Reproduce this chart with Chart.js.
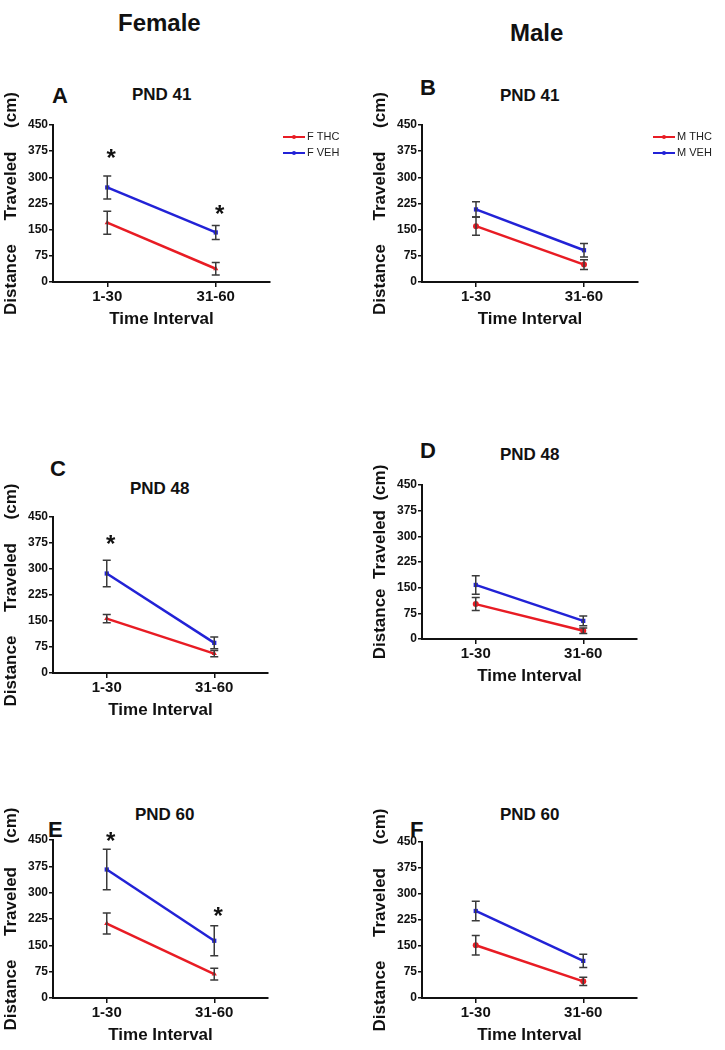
<!DOCTYPE html>
<html><head><meta charset="utf-8">
<script src="https://cdn.jsdelivr.net/npm/chart.js@4.4.1/dist/chart.umd.min.js"></script>
<style>
body{margin:0;background:#fff;width:725px;height:1050px;position:relative;overflow:hidden;font-family:"Liberation Sans",Arial,sans-serif;}
.t{position:absolute;font-weight:bold;line-height:1;white-space:nowrap;color:#111}
canvas{position:absolute}
</style></head><body>
<div class="t" style="left:118px;top:11px;font-size:24px">Female</div>
<div class="t" style="left:510px;top:21px;font-size:24px">Male</div>
<div class="t" style="left:52px;top:85px;font-size:22px">A</div>
<div class="t" style="left:132px;top:86px;font-size:17px">PND 41</div>
<div class="t" style="left:420px;top:77px;font-size:22px">B</div>
<div class="t" style="left:500px;top:87px;font-size:17px">PND 41</div>
<div class="t" style="left:50px;top:458px;font-size:22px">C</div>
<div class="t" style="left:130px;top:480px;font-size:17px">PND 48</div>
<div class="t" style="left:420px;top:440px;font-size:22px">D</div>
<div class="t" style="left:500px;top:446px;font-size:17px">PND 48</div>
<div class="t" style="left:48px;top:819px;font-size:22px">E</div>
<div class="t" style="left:135px;top:806px;font-size:17px">PND 60</div>
<div class="t" style="left:410px;top:819px;font-size:22px">F</div>
<div class="t" style="left:500px;top:806px;font-size:17px">PND 60</div>
<script>
// ---- data ----
const categories = ['1-30', '31-60'];
const yTicks = [0, 75, 150, 225, 300, 375, 450];

const femaleLabels = ['F THC', 'F VEH'];
const maleLabels = ['M THC', 'M VEH'];

const thcA = [170, 38];   const thcAErr = [33, 18];
const vehA = [271, 142];  const vehAErr = [33, 20];
const starsA = [[0, 373], [1, 212]];

const thcB = [160, 50];   const thcBErr = [26, 14];
const vehB = [208, 91];   const vehBErr = [22, 19];

const thcC = [157, 56];   const thcCErr = [12, 9];
const vehC = [287, 87];   const vehCErr = [38, 17];
const starsC = [[0, 389]];

const thcD = [102, 24];   const thcDErr = [19, 8];
const vehD = [158, 53];   const vehDErr = [27, 14];

const thcE = [212, 68];   const thcEErr = [30, 17];
const vehE = [366, 163];  const vehEErr = [58, 43];
const starsE = [[0, 464], [1, 251]];

const thcF = [152, 48];   const thcFErr = [28, 12];
const vehF = [251, 107];  const vehFErr = [28, 19];

const yTitleWide = 'Distance     Traveled     (cm)';
const yTitleNarrow = 'Distance  Traveled  (cm)';
const xTitle = 'Time Interval';

// ---- styling / plugins ----
Chart.defaults.font.family = '"Liberation Sans", Arial, sans-serif';
Chart.defaults.color = '#111';
const RED = 'rgb(232,28,36)';
const BLUE = 'rgb(34,34,214)';
const TOP_PAD = 45;

const errorBars = {
  id: 'errorBars',
  afterDatasetsDraw(chart) {
    const ctx = chart.ctx, ys = chart.scales.y;
    ctx.save();
    ctx.strokeStyle = '#3a3a3a';
    ctx.lineWidth = 1.5;
    chart.data.datasets.forEach((ds, i) => {
      const meta = chart.getDatasetMeta(i);
      meta.data.forEach((pt, j) => {
        const v = ds.data[j], e = ds.errors[j];
        const y1 = ys.getPixelForValue(v + e), y2 = ys.getPixelForValue(v - e);
        const x = pt.x, w = 4;
        ctx.beginPath();
        ctx.moveTo(x, y1); ctx.lineTo(x, y2);
        ctx.moveTo(x - w, y1); ctx.lineTo(x + w, y1);
        ctx.moveTo(x - w, y2); ctx.lineTo(x + w, y2);
        ctx.stroke();
      });
    });
    ctx.restore();
  }
};

const stars = {
  id: 'stars',
  afterDatasetsDraw(chart, args, opts) {
    if (!opts.items) return;
    const ctx = chart.ctx, xs = chart.scales.x, ys = chart.scales.y;
    ctx.save();
    ctx.fillStyle = '#111';
    ctx.font = 'bold 24px "Liberation Sans", Arial, sans-serif';
    ctx.textAlign = 'center';
    ctx.textBaseline = 'alphabetic';
    opts.items.forEach(([i, v]) => {
      ctx.fillText('*', xs.getPixelForValue(i) + 4, ys.getPixelForValue(v) + 14);
    });
    ctx.restore();
  }
};

const sideLegend = {
  id: 'sideLegend',
  afterDraw(chart, args, opts) {
    if (!opts.show) return;
    const ctx = chart.ctx, a = chart.chartArea;
    ctx.save();
    chart.data.datasets.forEach((ds, i) => {
      const y = a.top + 12 + i * 16;
      const x0 = a.right + opts.dx;
      ctx.strokeStyle = ds.borderColor;
      ctx.lineWidth = 2;
      ctx.beginPath(); ctx.moveTo(x0, y); ctx.lineTo(x0 + 22, y); ctx.stroke();
      ctx.fillStyle = ds.borderColor;
      ctx.beginPath(); ctx.arc(x0 + 11, y, 2, 0, Math.PI * 2); ctx.fill();
      ctx.fillStyle = '#222';
      ctx.font = '11px "Liberation Sans", Arial, sans-serif';
      ctx.textBaseline = 'middle';
      ctx.fillText(ds.label, x0 + 24, y);
    });
    ctx.restore();
  }
};

function makePanel(p) {
  const canvas = document.createElement('canvas');
  const cl = p.l - 53, ct = p.t - TOP_PAD;
  const w = p.r - cl + p.padR, h = (p.b - p.t) + TOP_PAD + 50;
  canvas.width = w; canvas.height = h;
  canvas.style.left = cl + 'px'; canvas.style.top = ct + 'px';
  canvas.style.width = w + 'px'; canvas.style.height = h + 'px';
  document.body.appendChild(canvas);
  const mk = (label, data, errors, color, ps) => ({
    label, data, errors, borderColor: color, backgroundColor: color,
    borderWidth: 2.5, pointRadius: 3, pointStyle: ps, pointBorderWidth: 0,
    tension: 0
  });
  new Chart(canvas, {
    type: 'line',
    data: {
      labels: categories,
      datasets: [
        mk(p.labels[0], p.thc, p.thcErr, RED, p.male ? 'circle' : 'triangle'),
        mk(p.labels[1], p.veh, p.vehErr, BLUE, 'rect')
      ]
    },
    options: {
      responsive: false, animation: false, devicePixelRatio: 1,
      layout: { padding: { left: 0, top: TOP_PAD, right: p.padR, bottom: 0 } },
      plugins: {
        legend: { display: false }, tooltip: { enabled: false },
        stars: { items: p.stars || null },
        sideLegend: { show: !!p.legend, dx: p.legendDx || 13 }
      },
      scales: {
        x: {
          type: 'category', offset: true,
          afterFit: s => { s.height = 50; },
          grid: { offset: false, drawOnChartArea: false, drawTicks: true, tickLength: 5, color: '#111', lineWidth: 1.5 },
          border: { display: true, color: '#111', width: 2 },
          ticks: { font: { size: 15, weight: 'bold' }, padding: 1, maxRotation: 0, autoSkip: false, color: '#111' },
          title: { display: true, text: xTitle, font: { size: 17, weight: 'bold' }, color: '#111', padding: { top: 0, bottom: 2 } }
        },
        y: {
          min: 0, max: 450,
          afterFit: s => { s.width = 53; },
          afterBuildTicks: s => { s.ticks = yTicks.map(v => ({ value: v })); },
          grid: { drawOnChartArea: false, drawTicks: true, tickLength: 4, color: '#111', lineWidth: 1.5 },
          border: { display: true, color: '#111', width: 2 },
          ticks: { font: { size: 12, weight: 'bold' }, padding: 1, color: '#111' },
          title: { display: true, text: p.yTitle, font: { size: 17, weight: 'bold' }, color: '#111', padding: { top: 1, bottom: 0 } }
        }
      }
    },
    plugins: [errorBars, stars, sideLegend]
  });
}

makePanel({ l: 53, t: 125, r: 270, b: 282, padR: 80, labels: femaleLabels, thc: thcA, thcErr: thcAErr, veh: vehA, vehErr: vehAErr, stars: starsA, legend: true, legendDx: 13, yTitle: yTitleWide });
makePanel({ l: 422, t: 125, r: 638, b: 282, padR: 82, male: true, labels: maleLabels, thc: thcB, thcErr: thcBErr, veh: vehB, vehErr: vehBErr, legend: true, legendDx: 15, yTitle: yTitleWide });
makePanel({ l: 53, t: 517, r: 268, b: 673, padR: 20, labels: femaleLabels, thc: thcC, thcErr: thcCErr, veh: vehC, vehErr: vehCErr, stars: starsC, yTitle: yTitleWide });
makePanel({ l: 422, t: 485, r: 637, b: 639, padR: 20, male: true, labels: maleLabels, thc: thcD, thcErr: thcDErr, veh: vehD, vehErr: vehDErr, yTitle: yTitleNarrow });
makePanel({ l: 53, t: 840, r: 268, b: 998, padR: 20, labels: femaleLabels, thc: thcE, thcErr: thcEErr, veh: vehE, vehErr: vehEErr, stars: starsE, yTitle: yTitleWide });
makePanel({ l: 422, t: 842, r: 637, b: 998, padR: 20, male: true, labels: maleLabels, thc: thcF, thcErr: thcFErr, veh: vehF, vehErr: vehFErr, yTitle: yTitleWide });
</script>
</body></html>
